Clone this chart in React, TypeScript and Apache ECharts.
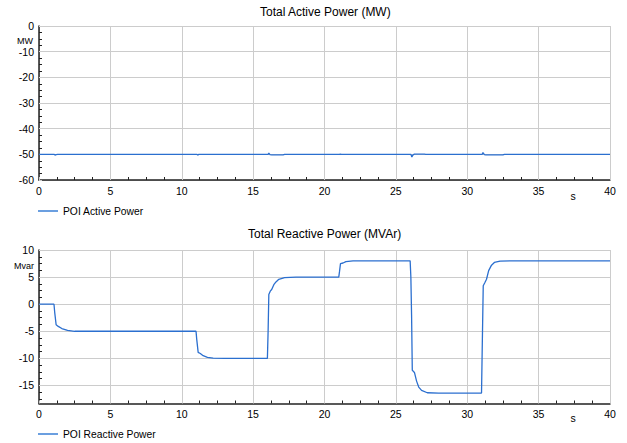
import React, { useEffect, useRef } from 'react';
import * as echarts from 'echarts';

// Active power (MW) time series
const timeP = [0, 1.05, 1.12, 1.2, 1.3, 11.05, 11.12, 11.2, 16.05, 16.1, 16.18, 16.3, 17.1, 17.2, 21.05, 21.1, 21.2, 26.05, 26.12, 26.2, 26.3, 27.0, 27.1, 31.05, 31.1, 31.2, 31.3, 32.5, 32.6, 40];
const activeMW = [-50, -50, -50.3, -50.1, -50, -50, -50.3, -50, -50, -49.5, -50.1, -50.2, -50.2, -50, -50, -49.9, -50, -50, -51, -50.2, -49.9, -49.9, -50, -50, -49.3, -50.1, -50.2, -50.2, -50, -50];

// Reactive power (Mvar) time series
const timeQ = [0, 1.05, 1.1, 1.2, 1.35, 1.6, 2.0, 2.5, 11.0, 11.05, 11.15, 11.3, 11.5, 11.8, 12.2, 13, 16.0, 16.05, 16.1, 16.2, 16.3, 16.45, 16.6, 16.8, 17.2, 18, 21.0, 21.05, 21.12, 21.3, 21.5, 22, 26.0, 26.05, 26.1, 26.15, 26.3, 26.45, 26.6, 26.8, 27.2, 28, 31.0, 31.05, 31.12, 31.22, 31.35, 31.5, 31.7, 31.9, 32.3, 33, 40];
const reactiveMvar = [0, 0, -1.5, -3.8, -4.1, -4.5, -4.85, -5, -5, -6.5, -8.9, -9.1, -9.5, -9.8, -9.95, -10, -10, -5, 1.8, 2.4, 2.7, 3.6, 4.1, 4.6, 4.9, 5, 5, 6, 7.5, 7.6, 7.85, 8, 8, 5, -2, -12.2, -12.6, -14.2, -15.3, -15.9, -16.35, -16.4, -16.4, -8, 3.4, 3.9, 4.6, 6.2, 7.2, 7.7, 7.95, 8, 8];

// Tick values for the reactive power axis
const qMajorTicks = [-15, -10, -5, 0, 5, 10];
const qMinorTicks = [-17.5, -16.25, -13.75, -12.5, -11.25, -8.75, -7.5, -6.25, -3.75, -2.5, -1.25, 1.25, 2.5, 3.75, 6.25, 7.5, 8.75];

const titles = ['Total Active Power (MW)', 'Total Reactive Power (MVAr)'];
const seriesNames = ['POI Active Power', 'POI Reactive Power'];

const FONT = "'Liberation Sans', Arial, sans-serif";
const LINE = '#2b6fcf';
const LEGEND_LINE = '#6b9fe0';
const GRID = '#cccccc';
const AXIS = '#222222';

export default function App() {
  const ref = useRef<HTMLDivElement>(null);
  useEffect(() => {
    document.body.style.margin = '0';
    const chart = echarts.init(ref.current!, null, { renderer: 'svg' });

    const xAxisBase = (gridIndex: number) => ({
      type: 'value',
      gridIndex,
      min: 0,
      max: 40,
      interval: 5,
      axisLine: { show: true, onZero: false, lineStyle: { color: AXIS, width: 1.5 } },
      axisTick: { show: true, inside: true, length: 3, lineStyle: { color: GRID } },
      minorTick: { show: true, splitNumber: 4, length: 3, lineStyle: { color: AXIS } },
      splitLine: { show: true, lineStyle: { color: GRID, width: 1 } },
      axisLabel: { color: '#000', fontSize: 10.5, fontFamily: FONT, margin: 5 },
    });

    const yLabel = { color: '#000', fontSize: 10.5, fontFamily: FONT, margin: 5, padding: [5, 0, 0, 0] };

    const legendBase = (name: string, top: number) => ({
      data: [{ name, icon: 'rect', itemStyle: { color: LEGEND_LINE, borderWidth: 0 } }],
      left: 38,
      top,
      padding: 0,
      itemWidth: 20,
      itemHeight: 2,
      selectedMode: false,
      textStyle: { fontSize: 10.3, color: '#000', fontFamily: FONT },
    });

    chart.setOption({
      animation: false,
      backgroundColor: '#ffffff',
      title: [
        { text: titles[0], left: 260, top: 6, padding: 0, textStyle: { fontSize: 12, fontWeight: 'normal', color: '#000', fontFamily: FONT } },
        { text: titles[1], left: 248, top: 228, padding: 0, textStyle: { fontSize: 12, fontWeight: 'normal', color: '#000', fontFamily: FONT } },
      ],
      legend: [legendBase(seriesNames[0], 206), legendBase(seriesNames[1], 429)],
      grid: [
        { left: 39, top: 26, width: 571, height: 154, containLabel: false },
        { left: 39, top: 250, width: 571, height: 153.5, containLabel: false },
      ],
      xAxis: [xAxisBase(0), xAxisBase(1)],
      yAxis: [
        {
          type: 'value',
          gridIndex: 0,
          min: -60,
          max: 0,
          interval: 10,
          position: 'left',
          axisLine: { show: true, onZero: false, lineStyle: { color: AXIS, width: 1.5 } },
          axisTick: { show: true, inside: true, length: 3, lineStyle: { color: GRID } },
          minorTick: { show: true, splitNumber: 4, length: 3, lineStyle: { color: AXIS } },
          splitLine: { show: true, lineStyle: { color: GRID, width: 1 } },
          axisLabel: yLabel,
        },
        {
          type: 'value',
          gridIndex: 1,
          min: -18.33,
          max: 10,
          position: 'left',
          axisLine: { show: true, onZero: false, lineStyle: { color: AXIS, width: 1.5 } },
          axisTick: { show: true, inside: true, length: 3, customValues: qMajorTicks, lineStyle: { color: GRID } },
          splitLine: { show: true, lineStyle: { color: GRID, width: 1 } },
          axisLabel: { ...yLabel, customValues: qMajorTicks },
        },
        {
          type: 'value',
          gridIndex: 1,
          min: -18.33,
          max: 10,
          position: 'left',
          axisLine: { show: false },
          axisLabel: { show: false },
          splitLine: { show: false },
          axisTick: { show: true, inside: true, length: 3, customValues: qMinorTicks, lineStyle: { color: AXIS } },
        },
      ],
      graphic: [
        { type: 'text', x: 33, y: 41, style: { text: 'MW', fontSize: 9, fontFamily: FONT, fill: '#000', align: 'right', verticalAlign: 'middle' } },
        { type: 'text', x: 34, y: 266, style: { text: 'Mvar', fontSize: 9, fontFamily: FONT, fill: '#000', align: 'right', verticalAlign: 'middle' } },
        { type: 'text', x: 573, y: 196, style: { text: 's', fontSize: 10.5, fontFamily: FONT, fill: '#000', align: 'center', verticalAlign: 'middle' } },
        { type: 'text', x: 573, y: 418, style: { text: 's', fontSize: 10.5, fontFamily: FONT, fill: '#000', align: 'center', verticalAlign: 'middle' } },
      ],
      series: [
        {
          type: 'line',
          name: seriesNames[0],
          xAxisIndex: 0,
          yAxisIndex: 0,
          data: timeP.map((t, i) => [t, activeMW[i]]),
          symbol: 'none',
          showSymbol: false,
          lineStyle: { color: LINE, width: 1.3 },
          itemStyle: { color: LINE },
        },
        {
          type: 'line',
          name: seriesNames[1],
          xAxisIndex: 1,
          yAxisIndex: 1,
          data: timeQ.map((t, i) => [t, reactiveMvar[i]]),
          symbol: 'none',
          showSymbol: false,
          lineStyle: { color: LINE, width: 1.3 },
          itemStyle: { color: LINE },
        },
      ],
    });

    return () => chart.dispose();
  }, []);

  return <div ref={ref} style={{ width: 627, height: 443 }} />;
}
